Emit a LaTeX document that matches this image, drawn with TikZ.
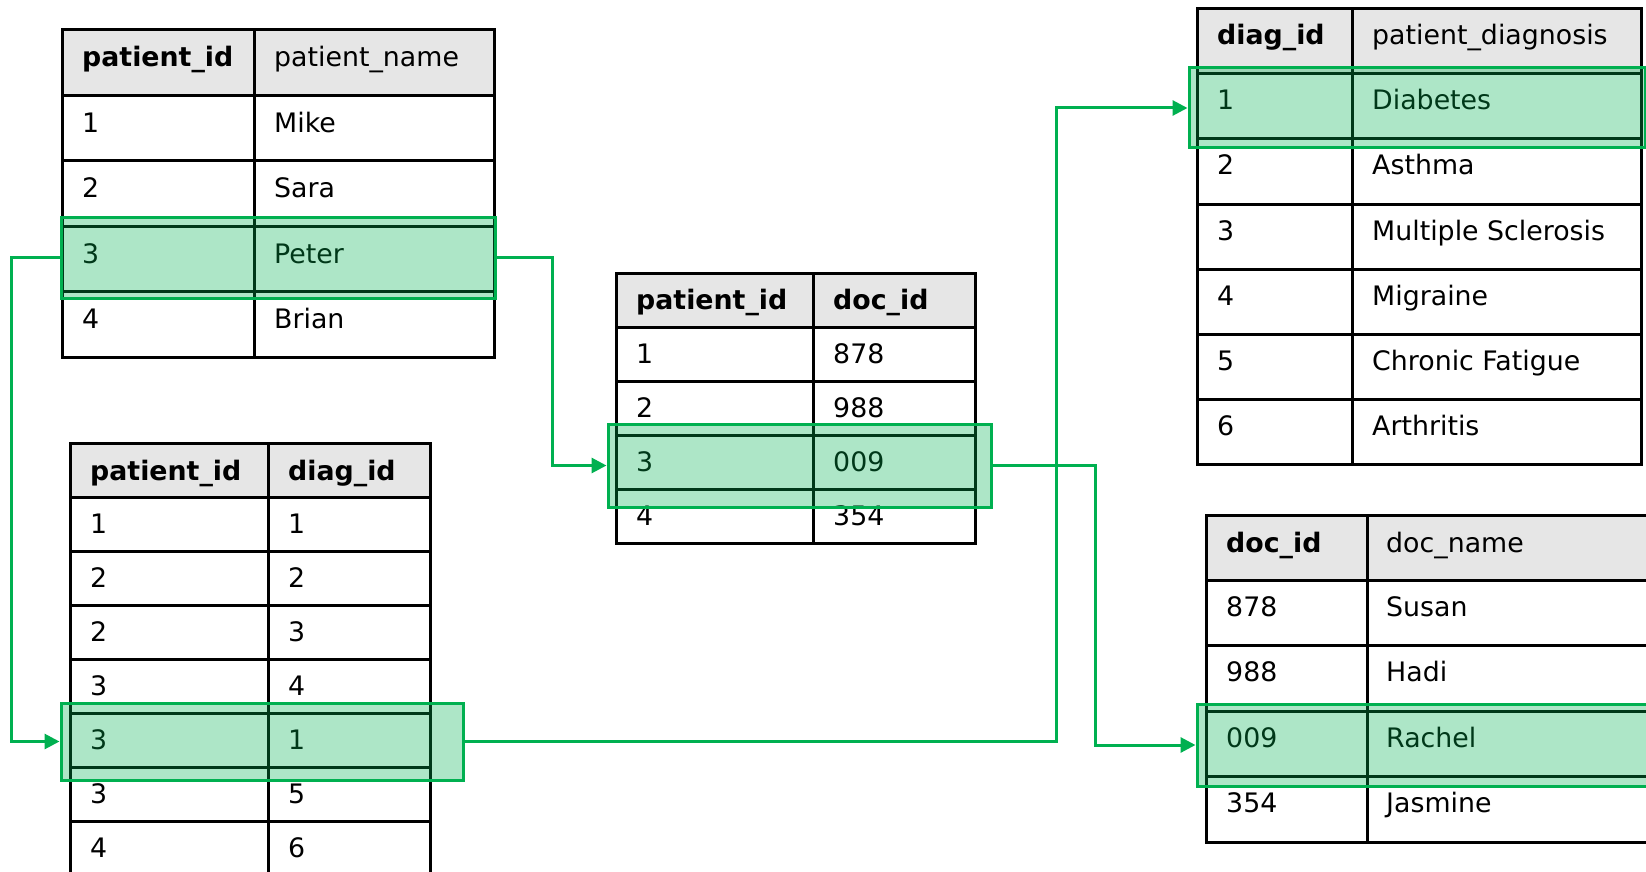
\documentclass[tikz,border=0pt]{standalone}
\usepackage{fontspec}
\setmainfont{DejaVu Sans}
\usetikzlibrary{arrows.meta}
\definecolor{hlgreen}{RGB}{0,176,80}
\definecolor{hdrgray}{RGB}{230,230,230}
\tikzset{
  tblline/.style={line width=3pt, draw=black},
  cell/.style={anchor=base west, inner sep=0pt, font=\fontsize{26.8}{30}\selectfont},
  hcell/.style={anchor=base west, inner sep=0pt, font=\fontsize{26.8}{30}\selectfont\bfseries},
  hl/.style={draw=hlgreen, line width=3pt, fill=hlgreen, fill opacity=0.32, inner sep=0pt},
  conn/.style={draw=hlgreen, line width=3pt, -{Triangle[length=15pt,width=15pt]}},
}
\newcommand\tabgrid[6]{%
  \fill[hdrgray] (#1,#4) rectangle (#3,{#4+#5});
  \pgfmathtruncatemacro\nlast{#6-1}
  \foreach \k in {1,...,\nlast} \draw[tblline] (#1,{#4+\k*#5}) -- (#3,{#4+\k*#5});
  \draw[tblline] (#2,#4) -- (#2,{#4+#6*#5});
  \draw[tblline] (#1,#4) rectangle (#3,{#4+#6*#5});
}
\begin{document}
\begin{tikzpicture}[x=1pt,y=-1pt]
\useasboundingbox (0,0) rectangle (1646,872);
% ---------- table 1: patients
\tabgrid{62}{254}{494}{30}{65.4}{5}
\node[hcell] (pa-h-a) at (82,67) {patient\_id};
\node[cell] (pa-h-b) at (274,67) {patient\_name};
\foreach \a/\b [count=\i] in {1/Mike,2/Sara,3/Peter,4/Brian}{
  \node[cell] (pa-\i-a) at (82,{30+\i*65.4+37}) {\a};
  \node[cell] (pa-\i-b) at (274,{30+\i*65.4+37}) {\b};
}
% ---------- table 2: patient - diag
\tabgrid{70}{268}{430}{443}{54.1}{8}
\node[hcell] (pd-h-a) at (90,480) {patient\_id};
\node[hcell] (pd-h-b) at (288,480) {diag\_id};
\foreach \a/\b [count=\i] in {1/1,2/2,2/3,3/4,3/1,3/5,4/6}{
  \node[cell] (pd-\i-a) at (90,{443+\i*54.1+36}) {\a};
  \node[cell] (pd-\i-b) at (288,{443+\i*54.1+36}) {\b};
}
% ---------- table 3: patient - doc
\tabgrid{616}{813}{975}{273}{54}{5}
\node[hcell] (pc-h-a) at (636,309) {patient\_id};
\node[hcell] (pc-h-b) at (833,309) {doc\_id};
\foreach \a/\b [count=\i] in {1/878,2/988,3/009,4/354}{
  \node[cell] (pc-\i-a) at (636,{273+\i*54+36}) {\a};
  \node[cell] (pc-\i-b) at (833,{273+\i*54+36}) {\b};
}
% ---------- table 4: diagnoses
\tabgrid{1197}{1352}{1641}{9}{65}{7}
\node[hcell] (dg-h-a) at (1217,45) {diag\_id};
\node[cell] (dg-h-b) at (1372,45) {patient\_diagnosis};
\foreach \a/\b [count=\i] in {1/Diabetes,2/Asthma,3/Multiple Sclerosis,4/Migraine,5/Chronic Fatigue,6/Arthritis}{
  \node[cell] (dg-\i-a) at (1217,{9+\i*65+36}) {\a};
  \node[cell] (dg-\i-b) at (1372,{9+\i*65+36}) {\b};
}
% ---------- table 5: doctors
\tabgrid{1206}{1367}{1648}{515}{65.4}{5}
\node[hcell] (dc-h-a) at (1226,552) {doc\_id};
\node[cell] (dc-h-b) at (1386,552) {doc\_name};
\foreach \a/\b [count=\i] in {878/Susan,988/Hadi,009/Rachel,354/Jasmine}{
  \node[cell] (dc-\i-a) at (1226,{515+\i*65.4+36}) {\a};
  \node[cell] (dc-\i-b) at (1386,{515+\i*65.4+36}) {\b};
}
% ---------- highlights
\node[hl, minimum width=434, minimum height=81] (h1) at (278,257.5) {};
\node[hl, minimum width=402, minimum height=77] (h2) at (262,741.5) {};
\node[hl, minimum width=383, minimum height=83] (h3) at (799.5,465.5) {};
\node[hl, minimum width=456, minimum height=80] (h4) at (1417,108) {};
\node[hl, minimum width=458, minimum height=82] (h5) at (1426,745) {};
% ---------- connectors
\draw[conn] (h1.west) -- ++(-48,0) |- (h2.west);
\draw[conn] (h1.east) -- ++(56,0) |- (h3.west);
\draw[conn] (h2.east) -- ++(592,0) |- (h4.west);
\draw[conn] (h3.east) -- ++(103,0) |- (h5.west);
\end{tikzpicture}
\end{document}
